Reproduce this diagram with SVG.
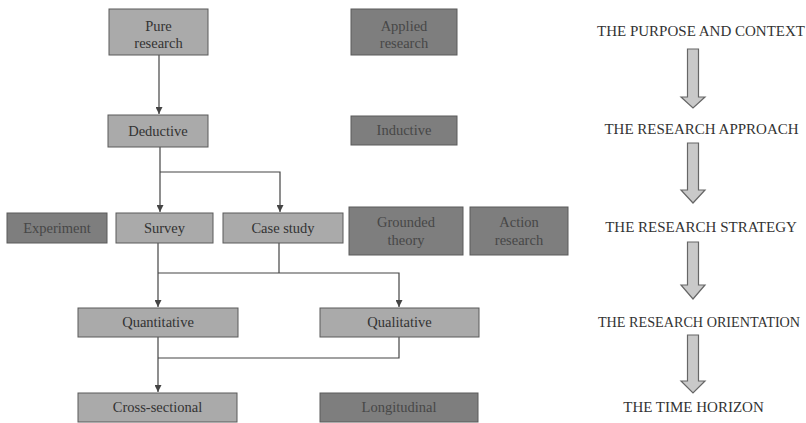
<svg xmlns="http://www.w3.org/2000/svg" width="806" height="423" viewBox="0 0 806 423">
  <style>
    .box { stroke: #5a5a5a; stroke-width: 1; }
    .light { fill: #aaaaaa; }
    .dark { fill: #7e7e7e; }
    .lbl { font-family: "Liberation Serif", "Times New Roman", serif; font-size: 14.5px; fill: #333; text-anchor: middle; }
    .dlbl { font-family: "Liberation Serif", "Times New Roman", serif; font-size: 14.5px; fill: #474747; text-anchor: middle; }
    .conn { fill: none; stroke: #444; stroke-width: 1.2; }
    .stage { font-family: "Liberation Serif", "Times New Roman", serif; font-size: 15px; fill: #333; text-anchor: middle; }
    .narrow { font-size: 14.2px; }
    .block { fill: #c9c9c9; stroke: #666; stroke-width: 1.2; }
  </style>
  <defs>
    <marker id="tri" viewBox="0 0 7 7" refX="7" refY="3.5" markerWidth="7" markerHeight="7" markerUnits="userSpaceOnUse" orient="auto">
      <path d="M0,0 L7,3.5 L0,7 Z" fill="#444"/>
    </marker>
  </defs>

  <rect width="806" height="423" fill="#ffffff"/>

  <!-- connectors -->
  <g id="connectors">
    <path class="conn" d="M159,55 V114" marker-end="url(#tri)"/>
    <path class="conn" d="M160,147 V212" marker-end="url(#tri)"/>
    <path class="conn" d="M160,172 H280 V212" marker-end="url(#tri)"/>
    <path class="conn" d="M158,243 V307" marker-end="url(#tri)"/>
    <path class="conn" d="M279,243 V273"/>
    <path class="conn" d="M158,273 H399 V307" marker-end="url(#tri)"/>
    <path class="conn" d="M158,337 V392" marker-end="url(#tri)"/>
    <path class="conn" d="M399,337 V358 H158"/>
  </g>

  <!-- choice boxes -->
  <g id="pure-research">
    <rect class="box light" x="109" y="9" width="99" height="46"/>
    <text class="lbl" x="158.5" y="31">Pure</text>
    <text class="lbl" x="158.5" y="48">research</text>
  </g>
  <g id="applied-research">
    <rect class="box dark" x="351" y="9" width="106" height="46"/>
    <text class="dlbl" x="404" y="31">Applied</text>
    <text class="dlbl" x="404" y="48">research</text>
  </g>
  <g id="deductive">
    <rect class="box light" x="108" y="115" width="100" height="32"/>
    <text class="lbl" x="158" y="136">Deductive</text>
  </g>
  <g id="inductive">
    <rect class="box dark" x="351" y="116" width="106" height="29"/>
    <text class="dlbl" x="404" y="135">Inductive</text>
  </g>
  <g id="experiment">
    <rect class="box dark" x="7" y="213" width="100" height="30"/>
    <text class="dlbl" x="57" y="233">Experiment</text>
  </g>
  <g id="survey">
    <rect class="box light" x="116" y="213" width="97" height="30"/>
    <text class="lbl" x="164.5" y="233">Survey</text>
  </g>
  <g id="case-study">
    <rect class="box light" x="223" y="213" width="120" height="30"/>
    <text class="lbl" x="283" y="233">Case study</text>
  </g>
  <g id="grounded-theory">
    <rect class="box dark" x="349" y="207" width="114" height="48"/>
    <text class="dlbl" x="406" y="227">Grounded</text>
    <text class="dlbl" x="406" y="245">theory</text>
  </g>
  <g id="action-research">
    <rect class="box dark" x="470" y="207" width="98" height="48"/>
    <text class="dlbl" x="519" y="227">Action</text>
    <text class="dlbl" x="519" y="245">research</text>
  </g>
  <g id="quantitative">
    <rect class="box light" x="78" y="308" width="160" height="29"/>
    <text class="lbl" x="158" y="327">Quantitative</text>
  </g>
  <g id="qualitative">
    <rect class="box light" x="320" y="308" width="159" height="29"/>
    <text class="lbl" x="399.5" y="327">Qualitative</text>
  </g>
  <g id="cross-sectional">
    <rect class="box light" x="78" y="393" width="159" height="29"/>
    <text class="lbl" x="157.5" y="412">Cross-sectional</text>
  </g>
  <g id="longitudinal">
    <rect class="box dark" x="320" y="393" width="158" height="29"/>
    <text class="dlbl" x="399" y="412">Longitudinal</text>
  </g>

  <!-- stage sequence -->
  <g id="stages">
    <text class="stage" x="701" y="36">THE PURPOSE AND CONTEXT</text>
    <polygon class="block" points="687.5,49 698.5,49 698.5,97 705,97 693,108 681,97 687.5,97"/>
    <text class="stage" x="701.5" y="134">THE RESEARCH APPROACH</text>
    <polygon class="block" points="687.5,143 698.5,143 698.5,190 705,190 693,203 681,190 687.5,190"/>
    <text class="stage" x="701" y="232">THE RESEARCH STRATEGY</text>
    <polygon class="block" points="687.5,242 698.5,242 698.5,285 705,285 693,299 681,285 687.5,285"/>
    <text class="stage narrow" x="699" y="327">THE RESEARCH ORIENTATION</text>
    <polygon class="block" points="687.5,335 698.5,335 698.5,381 705,381 693,393 681,381 687.5,381"/>
    <text class="stage" x="693.5" y="412">THE TIME HORIZON</text>
  </g>
</svg>
